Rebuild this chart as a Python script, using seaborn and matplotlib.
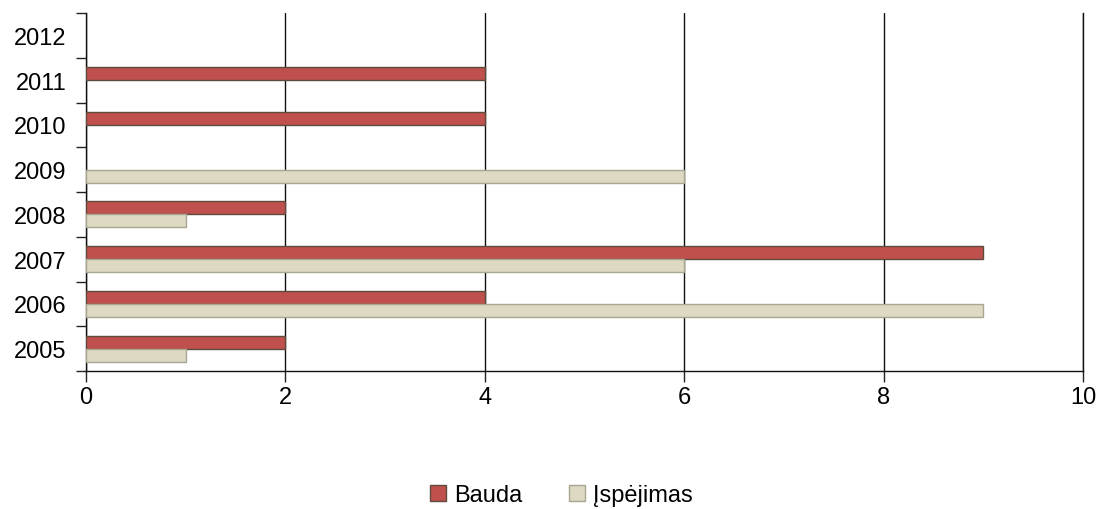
import numpy as np
import pandas as pd
import seaborn as sns
import matplotlib.pyplot as plt
from matplotlib.ticker import FixedLocator

# data
years = ['2012', '2011', '2010', '2009', '2008', '2007', '2006', '2005']
bauda = [np.nan, 4, 4, np.nan, 2, 9, 4, 2]
ispejimas = [np.nan, np.nan, np.nan, 6, 1, 6, 9, 1]
series = ['Bauda', 'Įspėjimas']

colors = {'Bauda': '#C0504D', 'Įspėjimas': '#DDD9C3'}
edges = {'Bauda': '#5E4B3C', 'Įspėjimas': '#A9A68F'}

df = pd.DataFrame({'year': years * 2,
                   'value': bauda + ispejimas,
                   'series': ['Bauda'] * len(years) + ['Įspėjimas'] * len(years)})

sns.set_style('white')
plt.rcParams['font.family'] = ['Liberation Sans', 'DejaVu Sans']
plt.rcParams['text.color'] = 'black'

fig = plt.figure(figsize=(10.99, 5.10), dpi=100)
ax = fig.add_axes([0.0783, 0.2706, 0.9071, 0.7019])

sns.barplot(data=df, x='value', y='year', hue='series', order=years,
            hue_order=series, palette=colors, width=0.58, orient='h',
            saturation=1, linewidth=1, ax=ax, legend=False)

for cont, name in zip(ax.containers, series):
    for bar in cont:
        bar.set_edgecolor(edges[name])
        bar.set_zorder(3)

ax.set_xlim(0, 10)
ax.set_ylim(len(years) - 0.5, -0.5)
ax.set_xticks(range(0, 11, 2))
ax.xaxis.grid(True, color='#111111', linewidth=1)
ax.set_axisbelow(True)
ax.yaxis.grid(False)
ax.set_xlabel('')
ax.set_ylabel('')

ax.yaxis.set_minor_locator(FixedLocator(np.arange(-0.5, len(years), 1)))
ax.tick_params(axis='y', which='major', length=0, pad=14, labelsize=17, labelcolor='black')
ax.tick_params(axis='y', which='minor', length=7, width=1, color='#222222', left=True)
ax.tick_params(axis='x', which='major', length=8, width=1, color='#222222',
               bottom=True, pad=3, labelsize=17, labelcolor='black')

ax.spines['top'].set_visible(False)
for side in ['left', 'bottom', 'right']:
    ax.spines[side].set_color('#111111')
    ax.spines[side].set_linewidth(1)

handles = [plt.Rectangle((0, 0), 1, 1, facecolor=colors[s], edgecolor=edges[s]) for s in series]
fig.legend(handles, series, loc='center', bbox_to_anchor=(0.511, 0.027), ncol=2,
           frameon=False, fontsize=17, handlelength=0.65, handleheight=0.65,
           handletextpad=0.35, columnspacing=2.0, labelcolor='black')

fig.savefig('out.png', dpi=100)
